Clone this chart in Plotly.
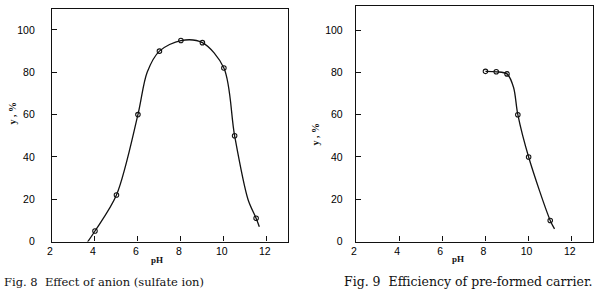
import plotly.graph_objects as go

# ---- data (Fig. 8) ----
ph8_points = [4, 5, 6, 7, 8, 9, 10, 10.5, 11.5]
y8_points = [5, 22, 60, 90, 95, 94, 82, 50, 11]
ph8_curve = [3.6, 4, 5, 6, 6.43, 7, 8, 9, 10, 10.5, 11.12, 11.5, 11.65]
y8_curve = [-1, 5, 22, 60, 80, 90, 95, 94, 82, 50, 20, 11, 7]

# ---- data (Fig. 9) ----
ph9_points = [8, 8.5, 9, 9.5, 10, 11]
y9_points = [80.5, 80.3, 79.3, 60, 40, 10]
ph9_curve = [8, 8.5, 9, 9.3, 9.5, 10, 11, 11.2]
y9_curve = [80.5, 80.3, 79.3, 73, 60, 40, 10, 6]

x_ticks = [2, 4, 6, 8, 10, 12]
y_ticks = [0, 20, 40, 60, 80, 100]
captions = ["Fig. 8  Effect of anion (sulfate ion)",
            "Fig. 9  Efficiency of pre-formed carrier."]

W, H = 602, 289
INK = "#111111"

fig = go.Figure()

line_style = dict(color=INK, width=1.3, shape="spline", smoothing=0.9)
marker_style = dict(symbol="circle-open", size=4.5, color=INK, line=dict(width=1.1, color=INK))

fig.add_trace(go.Scatter(x=ph8_curve, y=y8_curve, mode="lines", line=line_style,
                         xaxis="x", yaxis="y", hoverinfo="skip", showlegend=False))
fig.add_trace(go.Scatter(x=ph8_points, y=y8_points, mode="markers", marker=marker_style,
                         xaxis="x", yaxis="y", showlegend=False))
fig.add_trace(go.Scatter(x=ph9_curve, y=y9_curve, mode="lines", line=line_style,
                         xaxis="x2", yaxis="y2", hoverinfo="skip", showlegend=False))
fig.add_trace(go.Scatter(x=ph9_points, y=y9_points, mode="markers", marker=marker_style,
                         xaxis="x2", yaxis="y2", showlegend=False))

def px_x(p):
    return p / W

def px_y(p):
    return (H - p) / H

tick_font = dict(family="Liberation Sans, Arial, sans-serif", size=10.5, color="#000")

common_x = dict(range=[2, 13], tickvals=x_ticks, ticks="inside", ticklen=5, tickwidth=1.3,
                tickcolor=INK, showline=True, linecolor=INK, linewidth=1.3, mirror=True,
                showgrid=False, zeroline=False, tickfont=tick_font, ticklabelshift=-2,
                ticklabelstandoff=0)
common_y = dict(tickvals=y_ticks, ticks="inside", ticklen=5, tickwidth=1.3,
                tickcolor=INK, showline=True, linecolor=INK, linewidth=1.3, mirror=True,
                showgrid=False, zeroline=False, tickfont=tick_font, ticklabelstandoff=14)

fig.update_layout(
    width=W, height=H, margin=dict(l=0, r=0, t=0, b=0),
    paper_bgcolor="white", plot_bgcolor="white",
    xaxis=dict(domain=[px_x(47.4), px_x(285.7)], anchor="y", **common_x),
    yaxis=dict(domain=[px_y(246.7), px_y(9)], range=[0, 110], anchor="x", **common_y),
    xaxis2=dict(domain=[px_x(353.9), px_x(593.3)], anchor="y2", **common_x),
    yaxis2=dict(domain=[px_y(246.7), px_y(5.7)], range=[0, 111.6], anchor="x2",
                **{**common_y, "ticklabelstandoff": 10}),
)

serif = "Liberation Serif, Times New Roman, serif"
cap_font = "DejaVu Serif, serif"
ann = []
# pH axis titles
for xp, yp in [(153.3, 266), (456.7, 264.5)]:
    ann.append(dict(x=px_x(xp), y=px_y(yp), xref="paper", yref="paper", text="<b>pH</b>",
                    xanchor="center", yanchor="middle", showarrow=False,
                    font=dict(family=serif, size=9, color=INK)))
# y titles
for xp, yp in [(8, 115), (313, 137)]:
    ann.append(dict(x=px_x(xp), y=px_y(yp), xref="paper", yref="paper", text="<b>y , %</b>",
                    xanchor="center", yanchor="middle", textangle=-90, showarrow=False,
                    font=dict(family=serif, size=10, color=INK)))
# captions
ann.append(dict(x=px_x(-3), y=px_y(287.5), xref="paper", yref="paper", text=captions[0],
                xanchor="left", yanchor="middle", showarrow=False,
                font=dict(family=cap_font, size=11.5, color=INK)))
ann.append(dict(x=px_x(340), y=px_y(287.5), xref="paper", yref="paper", text=captions[1],
                xanchor="left", yanchor="middle", showarrow=False,
                font=dict(family=cap_font, size=12.5, color=INK)))
fig.update_layout(annotations=ann)

fig.write_html("out.html")
